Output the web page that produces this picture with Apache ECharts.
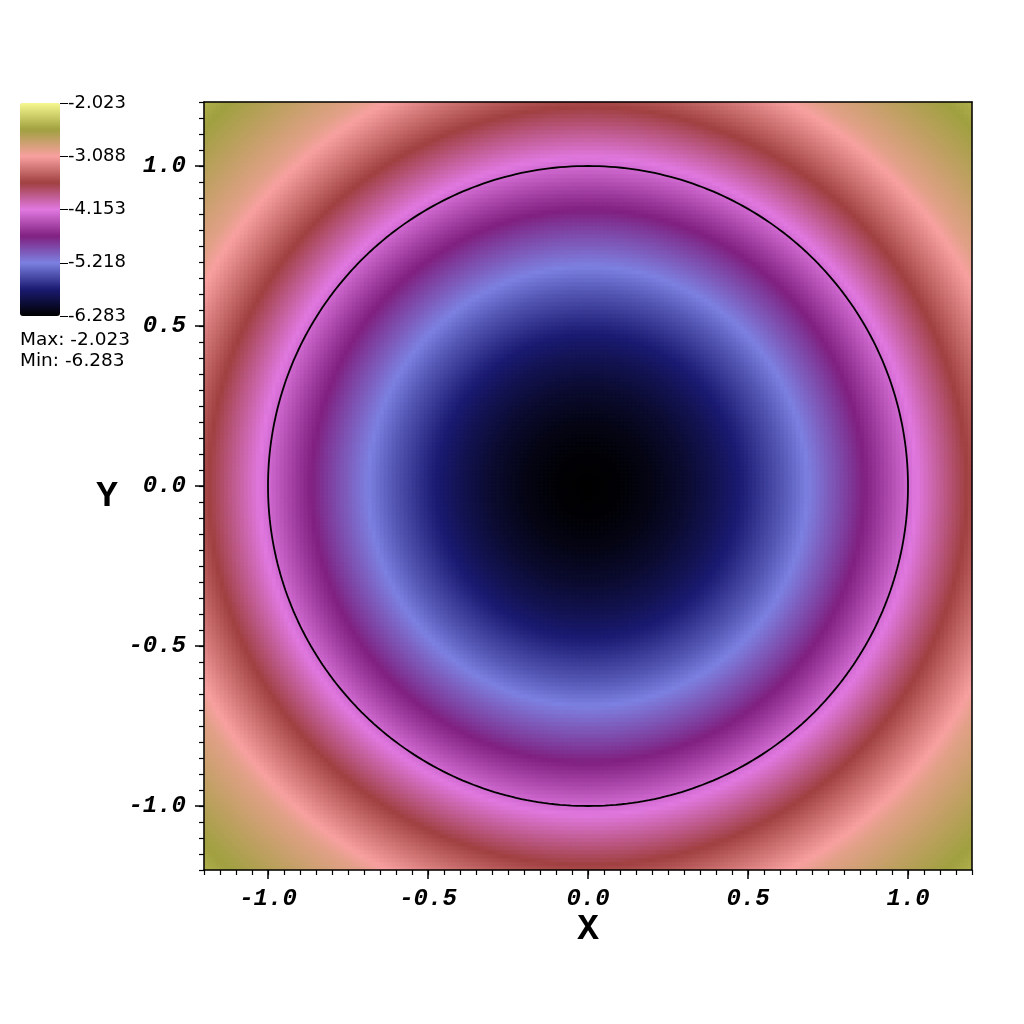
<!DOCTYPE html>
<html><head><meta charset="utf-8">
<script src="https://cdn.jsdelivr.net/npm/echarts@6/dist/echarts.min.js"></script>
<style>html,body{margin:0;padding:0;background:#fff}#c{width:1024px;height:1024px}</style>
</head><body><div id="c"></div>
<script>
// Radial profile of the field (value vs distance from the centre)
const profileRadius = [0.0, 0.1, 0.2, 0.3, 0.4, 0.5, 0.6, 0.7, 0.8, 0.9, 1.0, 1.1, 1.2, 1.3, 1.4, 1.5, 1.6, 1.7];
const profileValue  = [-6.283, -6.258, -6.185, -6.065, -5.900, -5.695, -5.454, -5.182, -4.886, -4.570, -4.241, -3.905, -3.568, -3.250, -2.950, -2.780, -2.620, -2.460];
const valueMin = -6.283;
const valueMax = -2.023;
const colorbarTicks = [-6.283, -5.218, -4.153, -3.088, -2.023];
const contourLevels = [-4.241];
const axisRange = [-1.2, 1.2];
const axisLabelValues = [-1.0, -0.5, 0.0, 0.5, 1.0];
const gridCells = 192;
const colormap = ['#000000', '#1a1a72', '#7c80e0', '#802080', '#e078e0', '#a04040', '#f8a0a0', '#a0a040', '#f8f890'];

function profileAt(r) {
  const n = profileRadius.length;
  if (r <= profileRadius[0]) return profileValue[0];
  for (let k = 1; k < n; k++) {
    if (r <= profileRadius[k]) {
      const f = (r - profileRadius[k - 1]) / (profileRadius[k] - profileRadius[k - 1]);
      return profileValue[k - 1] + f * (profileValue[k] - profileValue[k - 1]);
    }
  }
  return profileValue[n - 1];
}
function radiusOf(level) {
  for (let k = 1; k < profileValue.length; k++) {
    if (level <= profileValue[k]) {
      const f = (level - profileValue[k - 1]) / (profileValue[k] - profileValue[k - 1]);
      return profileRadius[k - 1] + f * (profileRadius[k] - profileRadius[k - 1]);
    }
  }
  return profileRadius[profileRadius.length - 1];
}

const span = axisRange[1] - axisRange[0];
const cats = [];
for (let i = 0; i < gridCells; i++) cats.push(String(i));
const heat = [];
for (let j = 0; j < gridCells; j++) {
  const y = axisRange[0] + span * (j + 0.5) / gridCells;
  for (let i = 0; i < gridCells; i++) {
    const x = axisRange[0] + span * (i + 0.5) / gridCells;
    heat.push([i, j, profileAt(Math.hypot(x, y))]);
  }
}
const contourSeries = contourLevels.map(function (lv) {
  const rc = radiusOf(lv);
  const pts = [];
  for (let a = 0; a <= 360; a++) {
    const t = a * Math.PI / 180;
    pts.push([rc * Math.cos(t), rc * Math.sin(t)]);
  }
  return {
    type: 'line', xAxisIndex: 1, yAxisIndex: 1, data: pts, symbol: 'none', silent: true,
    lineStyle: { color: '#000', width: 1.8 }, z: 5, animation: false
  };
});

const monoFont = { fontFamily: 'Liberation Mono', fontWeight: 'bold', fontStyle: 'italic', fontSize: 24, color: '#000' };
const black = { color: '#000', width: 1.5 };

function valueAxis(extra) {
  return Object.assign({
    type: 'value', gridIndex: 0, min: axisRange[0], max: axisRange[1],
    splitLine: { show: false }, z: 10, silent: true
  }, extra);
}
function line(show) { return { show: show, onZero: false, lineStyle: black }; }

const option = {
  animation: false,
  backgroundColor: '#fff',
  grid: [
    { left: 204, top: 102, width: 768, height: 768, show: false },
    { left: 59, top: 103, width: 1, height: 213, show: false }
  ],
  xAxis: [
    { type: 'category', gridIndex: 0, data: cats, show: false, boundaryGap: true },
    valueAxis({ position: 'bottom', interval: 0.05, axisLine: line(true), axisTick: { show: true, length: 5, lineStyle: { color: '#000', width: 1.2 } }, axisLabel: { show: false } }),
    valueAxis({ position: 'bottom', axisLine: line(false), axisTick: { show: true, length: 9, customValues: axisLabelValues, lineStyle: { color: '#000', width: 1.5 } }, axisLabel: Object.assign({ show: true, customValues: axisLabelValues, margin: 17, formatter: function (v) { return v.toFixed(1); } }, monoFont) }),
    valueAxis({ position: 'top', axisLine: line(true), axisTick: { show: false }, axisLabel: { show: false } }),
    { type: 'value', gridIndex: 1, show: false }
  ],
  yAxis: [
    { type: 'category', gridIndex: 0, data: cats, show: false, boundaryGap: true },
    valueAxis({ position: 'left', interval: 0.05, axisLine: line(true), axisTick: { show: true, length: 5, lineStyle: { color: '#000', width: 1.2 } }, axisLabel: { show: false } }),
    valueAxis({ position: 'left', axisLine: line(false), axisTick: { show: true, length: 9, customValues: axisLabelValues, lineStyle: { color: '#000', width: 1.5 } }, axisLabel: Object.assign({ show: true, customValues: axisLabelValues, margin: 18, formatter: function (v) { return v.toFixed(1); } }, monoFont) }),
    valueAxis({ position: 'right', axisLine: line(true), axisTick: { show: false }, axisLabel: { show: false } }),
    {
      type: 'value', gridIndex: 1, position: 'right', min: valueMin, max: valueMax,
      splitLine: { show: false }, axisLine: { show: false, onZero: false },
      axisTick: { show: true, length: 8, customValues: colorbarTicks, lineStyle: { color: '#000', width: 1 } },
      axisLabel: { show: true, customValues: colorbarTicks, margin: 8, showMinLabel: true, showMaxLabel: true,
        formatter: function (v) { return v.toFixed(3); },
        fontFamily: 'DejaVu Sans', fontSize: 18, color: '#000' }
    }
  ],
  visualMap: {
    type: 'continuous', min: valueMin, max: valueMax, seriesIndex: 0,
    left: 20, top: 103, itemWidth: 40, itemHeight: 213, padding: 0,
    calculable: false, hoverLink: false, text: null, showLabel: false,
    inRange: { color: colormap }
  },
  series: [
    {
      type: 'heatmap', xAxisIndex: 0, yAxisIndex: 0, data: heat, progressive: 0,
      silent: true, emphasis: { disabled: true }, itemStyle: { borderWidth: 0 }
    }
  ].concat(contourSeries),
  graphic: [
    { type: 'text', left: 20, top: 331, style: { text: 'Max: -2.023', font: '18.5px "DejaVu Sans"', fill: '#000' } },
    { type: 'text', left: 20, top: 352, style: { text: 'Min: -6.283', font: '18.5px "DejaVu Sans"', fill: '#000' } },
    { type: 'text', x: 588, y: 930, style: { text: 'X', font: 'bold 36px "Liberation Mono"', fill: '#000', align: 'center', verticalAlign: 'middle' } },
    { type: 'text', x: 107, y: 497, style: { text: 'Y', font: 'bold 36px "Liberation Mono"', fill: '#000', align: 'center', verticalAlign: 'middle' } }
  ]
};

const chart = echarts.init(document.getElementById('c'), null, { renderer: 'canvas' });
chart.setOption(option);
</script>
</body></html>
